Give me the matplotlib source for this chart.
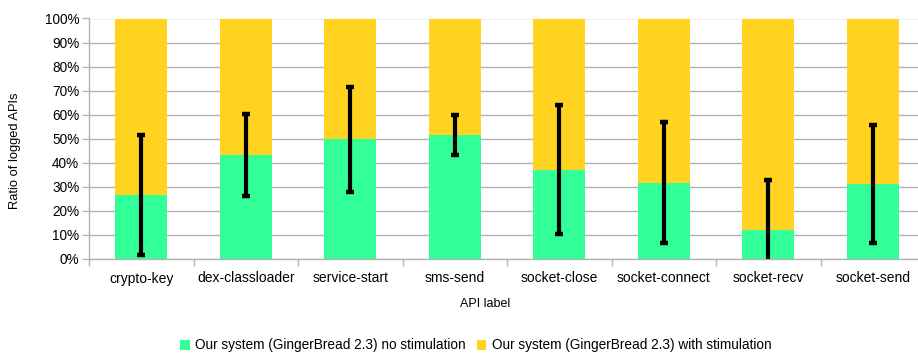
import matplotlib
matplotlib.use("Agg")
import matplotlib.pyplot as plt
from matplotlib.patches import Patch
from matplotlib.ticker import FuncFormatter
import numpy as np

plt.rcParams['font.family'] = ['Liberation Sans', 'DejaVu Sans']

# API categories and ratios (percent)
apis = ["crypto-key", "dex-classloader", "service-start", "sms-send",
        "socket-close", "socket-connect", "socket-recv", "socket-send"]
no_stim = [26.6, 43.2, 49.8, 51.6, 37.1, 31.7, 11.9, 31.3]
with_stim = [100 - v for v in no_stim]
no_stim_err = [24.9, 16.9, 21.9, 8.4, 26.9, 25.1, 21.0, 24.5]
yticks = list(range(0, 101, 10))

series_labels = ["Our system (GingerBread 2.3) no stimulation",
                 "Our system (GingerBread 2.3) with stimulation"]
green = "#33FF99"
yellow = "#FFD320"
grid_col = "#B3B3B3"

W, H = 918, 354
fig = plt.figure(figsize=(W / 100, H / 100), dpi=100)
ax = fig.add_axes([89 / W, 1 - 259 / H, (925 - 89) / W, (259 - 18.5) / H])

x = np.arange(len(apis))
ax.bar(x, no_stim, width=0.5, color=green, zorder=2)
ax.bar(x, with_stim, width=0.5, bottom=no_stim, color=yellow, zorder=2)
ax.errorbar(x, no_stim, yerr=no_stim_err, fmt="none", ecolor="black",
            elinewidth=3.0, capsize=3.0, capthick=3.2, zorder=3)

ax.set_xlim(-0.5, len(apis) - 0.5)
ax.set_ylim(0, 100)
ax.set_yticks(yticks)
ax.yaxis.set_major_formatter(FuncFormatter(lambda v, p: f"{int(v)}%"))
ax.yaxis.grid(True, color=grid_col, linewidth=1.0, zorder=0)
ax.set_axisbelow(True)

ax.set_xticks(x)
ax.set_xticklabels(apis)
ax.set_xticks(np.arange(len(apis) + 1) - 0.5, minor=True)
ax.tick_params(axis="x", which="major", length=0, pad=9, labelsize=10)
ax.tick_params(axis="x", which="minor", length=5, color=grid_col, width=1)
ax.tick_params(axis="y", length=5, color=grid_col, width=1, pad=2, labelsize=9.8)

for side in ("top", "right"):
    ax.spines[side].set_visible(False)
for side in ("left", "bottom"):
    ax.spines[side].set_color(grid_col)
    ax.spines[side].set_linewidth(1.0)

fig.text(485 / W, 1 - 304 / H, "API label", ha="center", va="center",
         fontsize=9)
fig.text(15 / W, 1 - 151 / H, "Ratio of logged APIs", rotation=90,
         ha="center", va="center", fontsize=9.3)

handles = [Patch(facecolor=green, edgecolor="none"),
           Patch(facecolor=yellow, edgecolor="none")]
fig.legend(handles, series_labels, loc="center", ncol=2, frameon=False,
           bbox_to_anchor=(476 / W, 1 - 345.5 / H), fontsize=9.8,
           handlelength=0.7, handleheight=0.7, handletextpad=0.4,
           columnspacing=0.8)

fig.savefig("out.png", dpi=100)
